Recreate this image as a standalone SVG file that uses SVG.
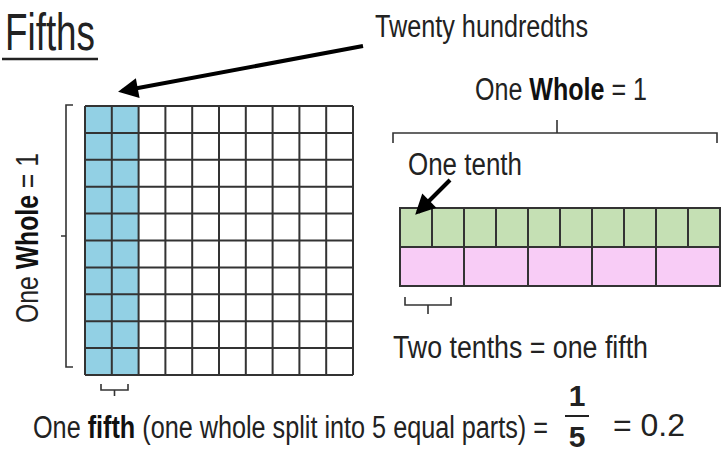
<svg xmlns="http://www.w3.org/2000/svg" width="722" height="454" viewBox="0 0 722 454">
<style>
.t{font-family:"Liberation Sans",Arial,sans-serif;fill:#222;font-size:31px}
.b{font-weight:bold;fill:#111}
.fr{font-family:"Liberation Sans",Arial,sans-serif;font-weight:bold;font-size:30px;fill:#222}
.ln{stroke:#333;stroke-width:2;fill:none}
.br{stroke:#333;stroke-width:1.6;fill:none}
.ar{stroke:#000;stroke-width:4;fill:none}
</style>
<defs>
<marker id="ah" viewBox="0 0 10 10" refX="8" refY="5" markerWidth="5.5" markerHeight="5" orient="auto" markerUnits="strokeWidth">
<path d="M0,0 L10,5 L0,10 z" fill="#000"/>
</marker>
</defs>
<rect width="722" height="454" fill="#fff"/>
<g id="title">
<text class="t" x="5" y="50" style="font-size:52px" textLength="90" lengthAdjust="spacingAndGlyphs">Fifths</text>
<line x1="2" y1="59" x2="98" y2="59" stroke="#222" stroke-width="2.5"/>
</g>
<g id="hundred-grid">
<rect x="85" y="106" width="53.6" height="269" fill="#92d0e4"/>
<path class="ln" d="M85,106V375M111.8,106V375M138.6,106V375M165.4,106V375M192.2,106V375M219,106V375M245.8,106V375M272.6,106V375M299.4,106V375M326.2,106V375M353,106V375M85,106H353M85,132.9H353M85,159.8H353M85,186.7H353M85,213.6H353M85,240.5H353M85,267.4H353M85,294.3H353M85,321.2H353M85,348.1H353M85,375H353"/>
</g>
<g id="grid-brace">
<path class="br" d="M73,105H66V367H73M66,236H61"/>
<text class="t" transform="translate(38,238) rotate(-90)" text-anchor="middle" textLength="170" lengthAdjust="spacingAndGlyphs">One <tspan class="b">Whole</tspan> = 1</text>
</g>
<g id="fifth-brace">
<path class="br" d="M101,384V390H128V384M114.5,390V396"/>
</g>
<g id="label-hundredths">
<text class="t" x="375" y="37" textLength="213" lengthAdjust="spacingAndGlyphs">Twenty hundredths</text>
</g>
<g id="label-whole">
<text class="t" x="475" y="100" textLength="172" lengthAdjust="spacingAndGlyphs">One <tspan class="b">Whole</tspan> = 1</text>
<path class="br" d="M393,143V133H717V143M557,133V120"/>
</g>
<g id="label-tenth">
<text class="t" x="408" y="175" textLength="114" lengthAdjust="spacingAndGlyphs">One tenth</text>
</g>
<g id="tenths-bar">
<rect x="400" y="208" width="320" height="39" fill="#c5e0b4"/>
<path class="ln" d="M400,208H720V247H400zM432,208V247M464,208V247M496,208V247M528,208V247M560,208V247M592,208V247M624,208V247M656,208V247M688,208V247"/>
</g>
<g id="fifths-bar">
<rect x="400" y="247" width="320" height="39" fill="#f8ccf6"/>
<path class="ln" d="M400,247H720V286H400zM464,247V286M528,247V286M592,247V286M656,247V286"/>
</g>
<g id="two-tenths">
<path class="br" d="M405,297V305H451V297M428,305V314"/>
<text class="t" x="393" y="358" textLength="255" lengthAdjust="spacingAndGlyphs">Two tenths = one fifth</text>
</g>
<g id="bottom-label">
<text class="t" x="33" y="438" textLength="515" lengthAdjust="spacingAndGlyphs">One <tspan class="b">fifth</tspan> (one whole split into 5 equal parts) =</text>
<text class="fr" x="577" y="406" text-anchor="middle">1</text>
<line x1="565" y1="416" x2="589" y2="416" stroke="#222" stroke-width="2"/>
<text class="fr" x="577" y="447" text-anchor="middle">5</text>
<text class="t" x="613" y="436" textLength="72" lengthAdjust="spacingAndGlyphs">= 0.2</text>
</g>
<g id="connectors">
<line class="ar" x1="363" y1="46" x2="122" y2="91" marker-end="url(#ah)"/>
<line class="ar" x1="450" y1="180" x2="418" y2="212" marker-end="url(#ah)"/>
</g>
</svg>
